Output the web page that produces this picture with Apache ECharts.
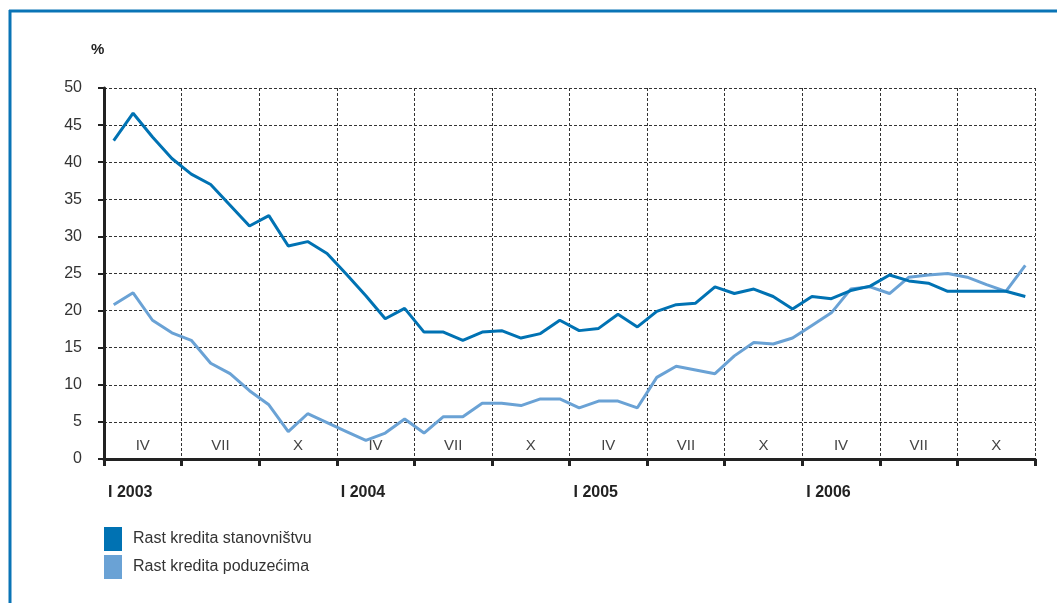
<!DOCTYPE html>
<html>
<head>
<meta charset="utf-8">
<script src="https://cdn.jsdelivr.net/npm/echarts@6/dist/echarts.min.js"></script>
<style>
  html, body { margin: 0; padding: 0; background: #fff; }
  #main { width: 1057px; height: 603px; }
</style>
</head>
<body>
<div id="main"></div>
<script type="text/javascript">
// months I 2003 .. XII 2006
var months = [];
var roman = ['I','II','III','IV','V','VI','VII','VIII','IX','X','XI','XII'];
[2003, 2004, 2005, 2006].forEach(function (y) {
    roman.forEach(function (m) { months.push(m + ' ' + y); });
});
var quarterLabels = ['IV','VII','X','IV','VII','X','IV','VII','X','IV','VII','X'];
var yearLabels = ['I 2003', 'I 2004', 'I 2005', 'I 2006'];

var stanovnistvo = [
    42.9, 46.6, 43.4, 40.5, 38.4, 37.0, 34.2, 31.4, 32.8, 28.7, 29.3, 27.7,
    24.9, 22.0, 18.9, 20.3, 17.1, 17.1, 16.0, 17.1, 17.3, 16.3, 16.9, 18.7,
    17.3, 17.6, 19.5, 17.8, 19.9, 20.8, 21.0, 23.2, 22.3, 22.9, 21.9, 20.2,
    21.9, 21.6, 22.7, 23.3, 24.8, 24.0, 23.7, 22.6, 22.6, 22.6, 22.6, 21.9
];
var poduzeca = [
    20.8, 22.4, 18.7, 17.0, 16.0, 12.9, 11.5, 9.2, 7.3, 3.7, 6.1, 4.9,
    3.7, 2.5, 3.5, 5.4, 3.5, 5.7, 5.7, 7.5, 7.5, 7.2, 8.1, 8.1,
    6.9, 7.8, 7.8, 6.9, 11.0, 12.5, 12.0, 11.5, 13.9, 15.7, 15.5, 16.3,
    18.0, 19.7, 22.9, 23.2, 22.3, 24.5, 24.8, 25.0, 24.5, 23.5, 22.6, 26.1
];
var seriesNames = ['Rast kredita stanovništvu', 'Rast kredita poduzećima'];

var myChart = echarts.init(document.getElementById('main'));

var gridLine = { show: true, lineStyle: { color: '#333', width: 1, type: [3, 2] } };

var option = {
    animation: false,
    color: ['#0072b3', '#6aa2d5'],
    textStyle: { fontFamily: 'Liberation Sans' },
    title: {
        text: '%',
        left: 86, top: 37,
        textStyle: { fontSize: 15, fontWeight: 'bold', color: '#222' }
    },
    grid: { left: 104, right: 22, top: 88, bottom: 144 },
    legend: {
        orient: 'vertical',
        left: 104, top: 527,
        padding: 0,
        icon: 'rect',
        itemWidth: 18, itemHeight: 24, itemGap: 4,
        textStyle: { fontSize: 16, color: '#333', padding: [0, 0, 0, 6] },
        data: seriesNames
    },
    xAxis: [
        {
            // data axis (hidden)
            type: 'category',
            data: months,
            boundaryGap: true,
            show: false
        },
        {
            // quarter labels, ticks and vertical gridlines
            type: 'category',
            data: quarterLabels,
            boundaryGap: true,
            position: 'bottom',
            axisLine: { lineStyle: { color: '#222', width: 3 } },
            axisTick: { show: true, inside: false, length: 7, lineStyle: { color: '#222', width: 3 } },
            axisLabel: { inside: true, margin: 6, fontSize: 15, color: '#444' },
            splitLine: gridLine
        },
        {
            // year labels
            type: 'value',
            min: 0, max: 48, interval: 12,
            position: 'bottom',
            axisLine: { show: false },
            axisTick: { show: false },
            splitLine: { show: false },
            axisLabel: {
                margin: 26,
                align: 'left',
                padding: [0, 0, 0, 4],
                fontSize: 16,
                fontWeight: 'bold',
                color: '#222',
                showMinLabel: true,
                showMaxLabel: true,
                formatter: function (v) { return yearLabels[v / 12] || ''; }
            }
        }
    ],
    yAxis: {
        type: 'value',
        min: 0, max: 50, interval: 5,
        axisLine: { show: true, lineStyle: { color: '#222', width: 3 } },
        axisTick: { show: true, length: 6, lineStyle: { color: '#222', width: 2 } },
        axisLabel: { margin: 22, fontSize: 16, color: '#333' },
        splitLine: gridLine
    },
    graphic: [
        { type: 'line', shape: { x1: 9, y1: 11, x2: 1057, y2: 11 }, style: { stroke: '#0a74b6', lineWidth: 3 } },
        { type: 'line', shape: { x1: 10, y1: 10, x2: 10, y2: 603 }, style: { stroke: '#0a74b6', lineWidth: 3 } }
    ],
    series: [
        {
            name: seriesNames[0],
            type: 'line',
            xAxisIndex: 0,
            data: stanovnistvo,
            showSymbol: false,
            lineStyle: { width: 3 },
            z: 3
        },
        {
            name: seriesNames[1],
            type: 'line',
            xAxisIndex: 0,
            data: poduzeca,
            showSymbol: false,
            lineStyle: { width: 3 },
            z: 2
        }
    ]
};

myChart.setOption(option);
</script>
</body>
</html>
